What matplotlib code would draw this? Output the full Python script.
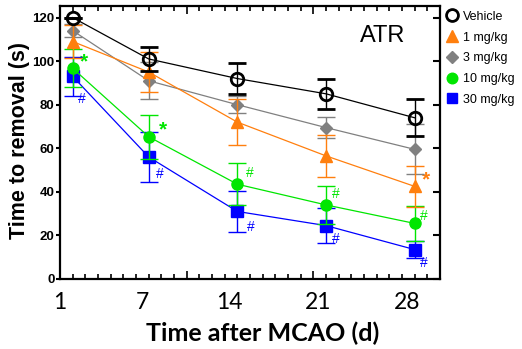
import matplotlib
matplotlib.use("Agg")
import matplotlib.pyplot as plt
from matplotlib.lines import Line2D
from matplotlib.ticker import MultipleLocator

days = [1, 7, 14, 21, 28]
day_labels = ["1", "7", "14", "21", "28"]
day_label_pos = [0.0, 6.5, 13.4, 20.4, 27.4]

vehicle = [120, 101, 92, 85, 74]
vehicle_err = [0, 5.5, 7, 7, 8.4]
dose1 = [109, 95, 72, 56.5, 42.5]
dose1_err = [7.5, 9, 10.5, 9.5, 9.5]
dose3 = [114, 91, 80, 69.5, 59.5]
dose3_err = [3, 8.6, 4, 5, 11.5]
dose10 = [96.7, 65.3, 43.5, 34, 25.5]
dose10_err = [8.7, 10, 9.6, 8.7, 8]
dose30 = [93, 56, 31, 24.5, 13.5]
dose30_err = [9, 11.5, 9.5, 8, 3.8]

# significance marks: (series index, day index, text)
marks = [
    (3, 0, "*"), (3, 1, "*"), (3, 2, "#"), (3, 3, "#"), (3, 4, "#"),
    (4, 0, "#"), (4, 1, "#"), (4, 2, "#"), (4, 3, "#"), (4, 4, "#"),
    (1, 4, "*"),
]

labels = ["Vehicle", "1 mg/kg", "3 mg/kg", "10 mg/kg", "30 mg/kg"]
colors = ["black", "#FF7F0E", "#808080", "#00E600", "#0000FF"]
markers = ["o", "^", "D", "o", "s"]
sizes = [9, 8.5, 6.5, 8, 8]
series = [vehicle, dose1, dose3, dose10, dose30]
errs = [vehicle_err, dose1_err, dose3_err, dose10_err, dose30_err]

fig = plt.figure(figsize=(5.22, 3.49), dpi=100)
ax = fig.add_axes([0.115, 0.2006, 0.728, 0.7834])

for i in [4, 3, 2, 1, 0]:
    mfc = "none" if i == 0 else colors[i]
    ax.errorbar(days, series[i], yerr=errs[i], color=colors[i], marker=markers[i],
                markersize=sizes[i], mfc=mfc, mec=colors[i],
                mew=2.0 if i == 0 else 1.0, lw=0.9, elinewidth=1.0,
                capsize=6.5, capthick=1.0, zorder=3 + (5 - i))

# significance text offsets in pixels
offsets = {
    (3, 0): (11, 6), (3, 1): (14, 7), (3, 2): (12, 11), (3, 3): (10, 11), (3, 4): (9, 7),
    (4, 0): (9, -23), (4, 1): (11, -17), (4, 2): (13, -16), (4, 3): (10, -13), (4, 4): (9, -13),
    (1, 4): (11, 7),
}
for s, d, t in marks:
    dx, dy = offsets[(s, d)]
    fs = 15 if t == "*" else 10
    ax.annotate(t, (days[d], series[s][d]), xytext=(dx, dy), textcoords="offset pixels",
                color=colors[s], fontsize=fs, ha="center", va="center",
                fontweight="bold" if t == "*" else "normal", family="Liberation Sans")

ax.set_xlim(0, 30)
ax.set_ylim(0, 125.5)
ax.xaxis.set_major_locator(MultipleLocator(10))
ax.xaxis.set_minor_locator(MultipleLocator(1))
ax.yaxis.set_major_locator(MultipleLocator(20))
ax.tick_params(axis="x", which="both", direction="in", top=True, bottom=True,
               labelbottom=False, width=1.2)
ax.tick_params(axis="x", which="major", length=6)
ax.tick_params(axis="x", which="minor", length=3.5)
ax.tick_params(axis="y", which="major", direction="out", left=True, right=False,
               length=3, width=1.5, pad=1)
for sp in ax.spines.values():
    sp.set_linewidth(1.6)

# inward ticks on the right spine
ax2 = ax.twinx()
ax2.set_ylim(ax.get_ylim())
ax2.yaxis.set_major_locator(MultipleLocator(20))
ax2.tick_params(axis="y", direction="in", length=5, width=1.5, labelright=False)
for sp in ax2.spines.values():
    sp.set_visible(False)

for lbl in ax.get_yticklabels():
    lbl.set_fontweight("bold")
    lbl.set_family("Liberation Sans")
    lbl.set_fontsize(9.5)

for p, t in zip(day_label_pos, day_labels):
    ax.text(p, -0.085, t, transform=ax.get_xaxis_transform(), ha="center", va="center",
            fontsize=16.5, family="Lato")

fig.text(0.504, 0.046, "Time after MCAO (d)", ha="center", va="center",
         fontsize=18, fontweight="bold", family="Lato")
fig.text(0.038, 0.596, "Time to removal (s)", ha="center", va="center", rotation=90,
         fontsize=15.5, fontweight="bold", family="Liberation Sans")

ax.text(0.908, 0.89, "ATR", transform=ax.transAxes, ha="right", va="center",
        fontsize=17, family="Liberation Sans")

handles = []
for i in range(5):
    mfc = "none" if i == 0 else colors[i]
    handles.append(Line2D([], [], ls="none", marker=markers[i], color=colors[i],
                          mfc=mfc, mec=colors[i], mew=2.0 if i == 0 else 1.0,
                          markersize=sizes[i] * 0.95))
ax.legend(handles, labels, loc="upper left", bbox_to_anchor=(1.018, 0.981),
          frameon=False, handlelength=0.8, handletextpad=0.5,
          labelspacing=0.7, borderaxespad=0, borderpad=0,
          prop={"family": "Liberation Sans", "size": 9})

fig.savefig("out.png", dpi=100)
